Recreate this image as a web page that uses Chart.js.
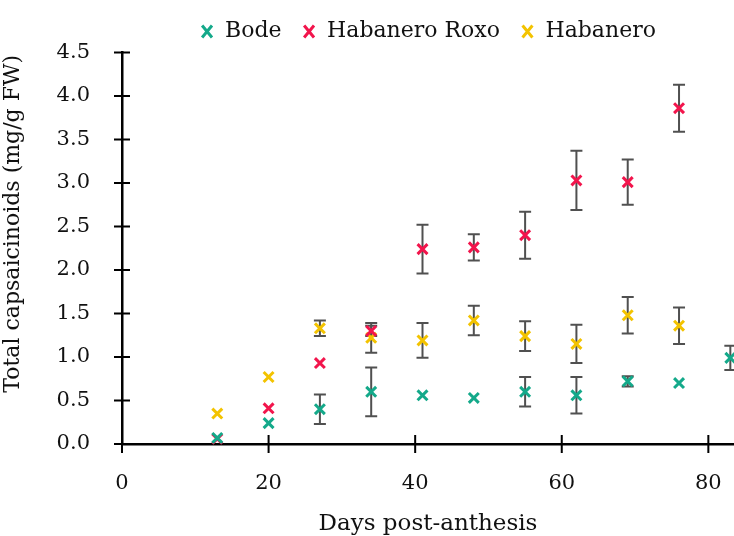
<!DOCTYPE html>
<html>
<head>
<meta charset="utf-8">
<script src="https://cdn.jsdelivr.net/npm/chart.js@4"></script>
<style>
  html, body { margin: 0; padding: 0; background: #fff; overflow: hidden; }
  #wrap { position: relative; width: 734px; height: 536px; overflow: hidden; }
  #myChart { display: block; }
</style>
</head>
<body>
<div id="wrap"><canvas id="myChart"></canvas></div>
<script>
// days post-anthesis (x positions)
const days = [13, 20, 27, 34, 41, 48, 55, 62, 69, 76, 83];

// Bode
const bodeMean = [0.07, 0.24, 0.40, 0.60, 0.56, 0.53, 0.60, 0.56, 0.72, 0.70, 0.99];
const bodeErr  = [0.03, 0.03, 0.17, 0.28, 0.04, 0.04, 0.17, 0.21, 0.06, 0.03, 0.14];

// Habanero Roxo (no value at 83)
const roxoMean = [0.06, 0.41, 0.93, 1.30, 2.24, 2.26, 2.40, 3.03, 3.01, 3.86];
const roxoErr  = [0.02, 0.03, 0.04, 0.06, 0.28, 0.15, 0.27, 0.34, 0.26, 0.27];

// Habanero (no value at 83)
const habMean = [0.35, 0.77, 1.33, 1.22, 1.19, 1.42, 1.24, 1.15, 1.48, 1.36];
const habErr  = [0.03, 0.03, 0.09, 0.17, 0.20, 0.17, 0.17, 0.22, 0.21, 0.21];

const xTicks = [0, 20, 40, 60, 80];
const yTicks = [0, 0.5, 1, 1.5, 2, 2.5, 3, 3.5, 4, 4.5];

const fontFamily = "'DejaVu Serif', serif";

// turns the arrays into point objects with error
function makePoints(mean, err) {
  return mean.map((v, i) => ({ x: days[i], y: v, e: err[i] }));
}

// draws grey error bars under the markers
const errorBars = {
  id: 'errorBars',
  beforeDatasetsDraw(chart) {
    const ctx = chart.ctx;
    const xs = chart.scales.x;
    const ys = chart.scales.y;
    ctx.save();
    ctx.strokeStyle = '#505050';
    ctx.lineWidth = 2;
    chart.data.datasets.forEach(ds => {
      ds.data.forEach(p => {
        if (p.e < 0.05) return;
        const px = xs.getPixelForValue(p.x);
        const top = ys.getPixelForValue(p.y + p.e);
        const bot = ys.getPixelForValue(p.y - p.e);
        ctx.beginPath();
        ctx.moveTo(px, top); ctx.lineTo(px, bot);
        ctx.moveTo(px - 6, top); ctx.lineTo(px + 6, top);
        ctx.moveTo(px - 6, bot); ctx.lineTo(px + 6, bot);
        ctx.stroke();
      });
    });
    ctx.restore();
  }
};

// tick marks that cross the axis lines
const crossTicks = {
  id: 'crossTicks',
  afterDraw(chart) {
    const ctx = chart.ctx;
    const xs = chart.scales.x;
    const ys = chart.scales.y;
    ctx.save();
    ctx.strokeStyle = '#000';
    ctx.lineWidth = 2;
    ctx.beginPath();
    yTicks.forEach(v => {
      const py = ys.getPixelForValue(v);
      ctx.moveTo(xs.left - 8, py); ctx.lineTo(xs.left + 8, py);
    });
    xTicks.forEach(v => {
      const px = xs.getPixelForValue(v);
      ctx.moveTo(px, ys.bottom - 9); ctx.lineTo(px, ys.bottom + 9);
    });
    ctx.stroke();
    ctx.restore();
  }
};

const myChart = new Chart(document.getElementById('myChart'), {
  type: 'scatter',
  data: {
    datasets: [
      { label: 'Bode', data: makePoints(bodeMean, bodeErr), borderColor: '#14a98a', backgroundColor: '#14a98a' },
      { label: 'Habanero Roxo', data: makePoints(roxoMean, roxoErr), borderColor: '#f2154c', backgroundColor: '#f2154c' },
      { label: 'Habanero', data: makePoints(habMean, habErr), borderColor: '#f3c300', backgroundColor: '#f3c300' }
    ]
  },
  options: {
    responsive: true,
    maintainAspectRatio: false,
    animation: false,
    clip: false,
    layout: { padding: 0, autoPadding: false },
    elements: {
      point: { pointStyle: 'crossRot', radius: 7, borderWidth: 3, hoverRadius: 7 }
    },
    plugins: {
      tooltip: { enabled: false },
      legend: {
        position: 'top',
        fullSize: false,
        labels: {
          usePointStyle: true,
          pointStyleWidth: 14,
          boxHeight: 12,
          padding: 20.5,
          color: '#111',
          font: { family: fontFamily, size: 22 }
        }
      }
    },
    scales: {
      x: {
        type: 'linear',
        min: 0,
        max: 83.5,
        afterFit(scale) {
          scale.height = 92;
          // the axis runs off the right edge in the original
          scale.paddingLeft = 0;
          scale.paddingRight = 0;
        },
        afterBuildTicks(scale) { scale.ticks = xTicks.map(v => ({ value: v })); },
        grid: { display: false },
        border: { display: true, color: '#000', width: 2.5 },
        ticks: { color: '#111', padding: 19, font: { family: fontFamily, size: 21 } },
        title: { display: true, text: 'Days post-anthesis', color: '#111', padding: { top: 0, bottom: -2 }, font: { family: fontFamily, size: 23 } }
      },
      y: {
        type: 'linear',
        min: 0,
        max: 4.5,
        afterFit(scale) { scale.width = 122; },
        afterBuildTicks(scale) { scale.ticks = yTicks.map(v => ({ value: v })); },
        grid: { display: false },
        border: { display: true, color: '#000', width: 2.5 },
        ticks: {
          color: '#111',
          padding: 24,
          font: { family: fontFamily, size: 21 },
          callback: v => v.toFixed(1)
        },
        title: {
          display: true,
          // leading spaces nudge the rotated title upward like the original
          text: '\u00a0\u00a0\u00a0\u00a0\u00a0\u00a0\u00a0Total capsaicinoids (mg/g FW)',
          color: '#111',
          padding: 0,
          font: { family: fontFamily, size: 22 }
        }
      }
    }
  },
  plugins: [errorBars, crossTicks]
});
</script>
</body>
</html>
